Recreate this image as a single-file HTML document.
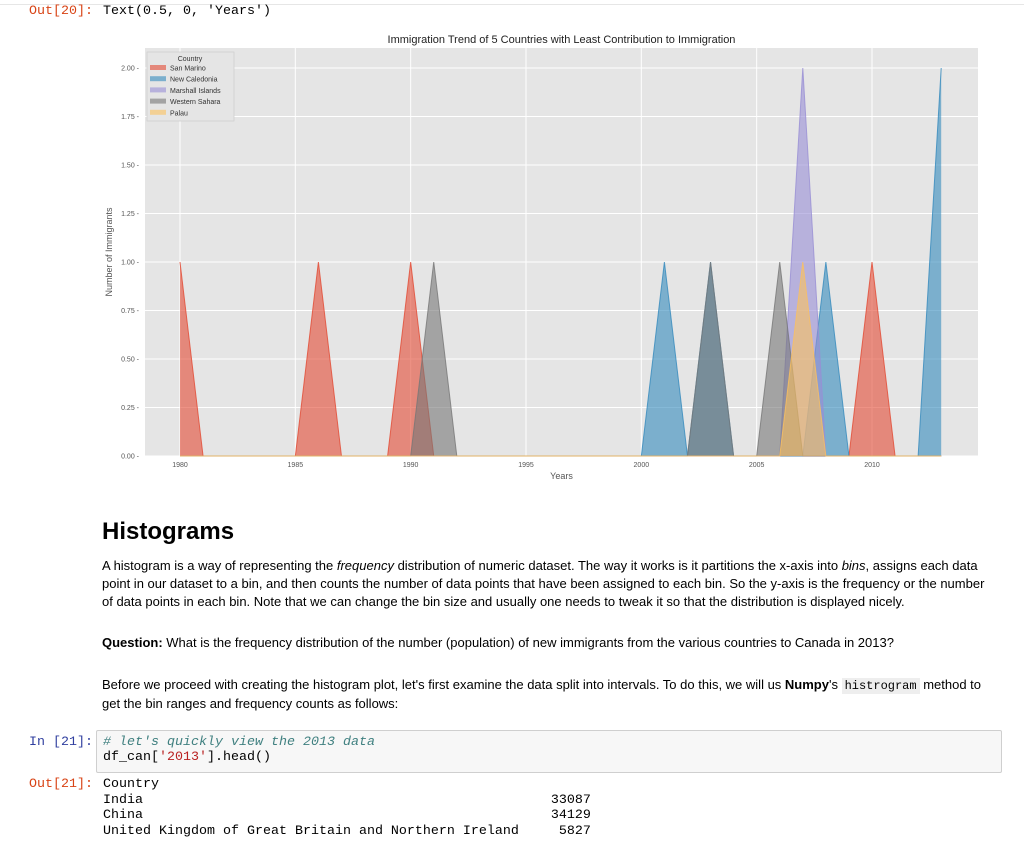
<!DOCTYPE html>
<html><head><meta charset="utf-8"><style>
body{margin:0;width:1024px;height:841px;overflow:hidden;background:#fff;font-family:"Liberation Sans",Arial,sans-serif;position:relative}
.abs{position:absolute}
.mono{font-family:"Liberation Mono",monospace;font-size:13.33px;white-space:pre}
p{margin:0}
.txt{font-size:13px;color:#000;line-height:18px}
code{font-family:"Liberation Mono",monospace;background:#eee;padding:1px 3px;font-size:12px}
</style></head><body>
<div class="abs" style="left:0;top:0;width:1024px;height:4px;border-bottom:1px solid #e6e6e6"></div>
<div class="abs mono" style="left:29px;top:4px;color:#d84315">Out[20]:</div>
<div class="abs mono" style="left:103px;top:4px">Text(0.5, 0, 'Years')</div>
<svg class="abs" style="left:0;top:28px" width="1024" height="470">
<g id="chart"></g>
</svg>
<div class="abs" style="left:102px;top:518px;font-size:24px;font-weight:bold">Histograms</div>
<div class="abs txt" style="left:102px;top:557px;width:895px">A histogram is a way of representing the <i>frequency</i> distribution of numeric dataset. The way it works is it partitions the x-axis into <i>bins</i>, assigns each data point in our dataset to a bin, and then counts the number of data points that have been assigned to each bin. So the y-axis is the frequency or the number of data points in each bin. Note that we can change the bin size and usually one needs to tweak it so that the distribution is displayed nicely.</div>
<div class="abs txt" style="left:102px;top:634px"><b>Question:</b> What is the frequency distribution of the number (population) of new immigrants from the various countries to Canada in 2013?</div>
<div class="abs txt" style="left:102px;top:676px;width:895px">Before we proceed with creating the histogram plot, let's first examine the data split into intervals. To do this, we will us <b>Numpy</b>'s <code>histrogram</code> method to get the bin ranges and frequency counts as follows:</div>
<div class="abs mono" style="left:29px;top:735px;color:#303f9f">In [21]:</div>
<div class="abs" style="left:96px;top:730px;width:904px;height:41px;background:#f7f7f7;border:1px solid #cfcfcf;border-radius:2px"></div>
<div class="abs mono" style="left:103px;top:735px;color:#408080;font-style:italic"># let's quickly view the 2013 data</div>
<div class="abs mono" style="left:103px;top:750px">df_can[<span style="color:#ba2121">'2013'</span>].head()</div>
<div class="abs mono" style="left:29px;top:777px;color:#d84315">Out[21]:</div>
<div class="abs mono" style="left:103px;top:777px;line-height:15.5px">Country
India                                                   33087
China                                                   34129
United Kingdom of Great Britain and Northern Ireland     5827</div>
<script>
const years=[];for(let y=1980;y<=2013;y++)years.push(y);
const sanMarino   =[1,0,0,0,0,0,1,0,0,0,1,0,0,0,0,0,0,0,0,0,0,0,0,0,0,0,0,0,0,0,1,0,0,0];
const newCaledonia=[0,0,0,0,0,0,0,0,0,0,0,0,0,0,0,0,0,0,0,0,0,1,0,1,0,0,0,0,1,0,0,0,0,2];
const marshall    =[0,0,0,0,0,0,0,0,0,0,0,0,0,0,0,0,0,0,0,0,0,0,0,0,0,0,0,2,0,0,0,0,0,0];
const westSahara  =[0,0,0,0,0,0,0,0,0,0,0,1,0,0,0,0,0,0,0,0,0,0,0,1,0,0,1,0,0,0,0,0,0,0];
const palau       =[0,0,0,0,0,0,0,0,0,0,0,0,0,0,0,0,0,0,0,0,0,0,0,0,0,0,0,1,0,0,0,0,0,0];
const seriesNames=["San Marino","New Caledonia","Marshall Islands","Western Sahara","Palau"];
const seriesVals=[sanMarino,newCaledonia,marshall,westSahara,palau];
const colors=["#E24A33","#348ABD","#988ED5","#777777","#FBC15E"];
const xTicks=[1980,1985,1990,1995,2000,2005,2010];
const yTicks=[0,0.25,0.5,0.75,1.0,1.25,1.5,1.75,2.0];
const NS="http://www.w3.org/2000/svg";
const g=document.getElementById('chart');
const L=145,R=978,T=20,B=428;
const xs=y=>180+(y-1980)*(692/30);
const ys=v=>B-v*194;
function el(t,a){const e=document.createElementNS(NS,t);for(const k in a)e.setAttribute(k,a[k]);g.appendChild(e);return e;}
const bg=el('rect',{x:L,y:T,width:R-L,height:B-T,fill:'#E5E5E5'});

yTicks.forEach(v=>{const l=el('line',{x1:L,x2:R,y1:ys(v),y2:ys(v),stroke:'#fff','stroke-width':1});

const t=el('text',{x:L-6,y:ys(v)+2.5,'font-size':7,'text-anchor':'end',fill:'#555'});t.textContent=v.toFixed(2)+' -';
});
xTicks.forEach(v=>{const l=el('line',{x1:xs(v),x2:xs(v),y1:T,y2:B,stroke:'#fff','stroke-width':1});

const t=el('text',{x:xs(v),y:B+11,'font-size':7,'text-anchor':'middle',fill:'#555'});t.textContent=v;
});
seriesVals.forEach((vals,i)=>{let d='M'+xs(years[0])+','+ys(0);
vals.forEach((v,j)=>{d+=' L'+xs(years[j])+','+ys(v);});
d+=' L'+xs(years[years.length-1])+','+ys(0)+' Z';
const p=el('path',{d:d,fill:colors[i],'fill-opacity':0.6,stroke:'none'});

let ld='';vals.forEach((v,j)=>{ld+=(j?' L':'M')+xs(years[j])+','+ys(v);});
const ln=el('path',{d:ld,fill:'none',stroke:colors[i],'stroke-width':1,'stroke-opacity':0.8});
});
const title=el('text',{x:(L+R)/2,y:15,'font-size':11,'text-anchor':'middle',fill:'#222'});title.textContent='Immigration Trend of 5 Countries with Least Contribution to Immigration';

const xl=el('text',{x:(L+R)/2,y:B+23,'font-size':9,'text-anchor':'middle',fill:'#555'});xl.textContent='Years';

const yl=el('text',{x:0,y:0,'font-size':9,'text-anchor':'middle',fill:'#555',transform:'translate(112,'+((T+B)/2)+') rotate(-90)'});yl.textContent='Number of Immigrants';

const lg=el('rect',{x:147,y:24,width:87,height:69,fill:'#E5E5E5',stroke:'#d0d0d0','stroke-width':0.8});

const lt=el('text',{x:190,y:33,'font-size':7,'text-anchor':'middle',fill:'#333'});lt.textContent='Country';

seriesNames.forEach((n,i)=>{const yy=37+i*11.2;
const s=el('rect',{x:150,y:yy,width:16,height:5,fill:colors[i],'fill-opacity':0.6});

const t=el('text',{x:170,y:yy+5.5,'font-size':7,fill:'#333'});t.textContent=n;
});
</script>
</body></html>
